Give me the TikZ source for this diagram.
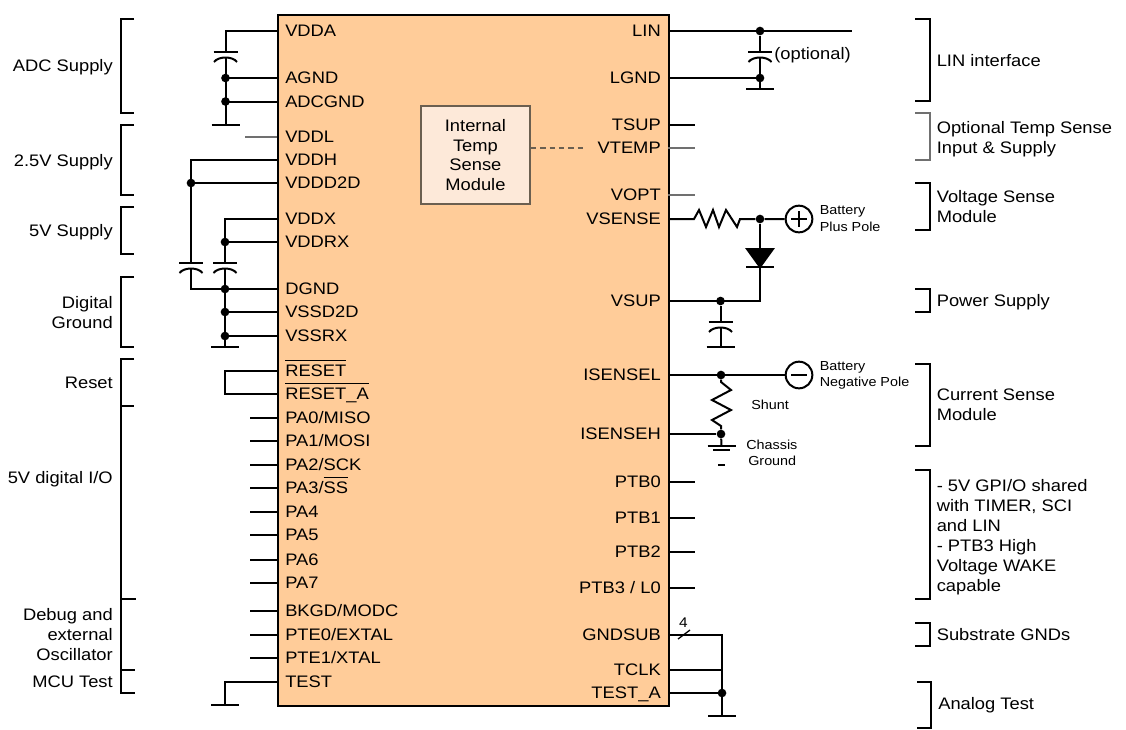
\documentclass[tikz,border=0pt]{standalone}
\usepackage{fontspec}
\setmainfont{Liberation Sans}[FakeStretch=1.1]
\definecolor{chipfill}{HTML}{FFCC99}
\definecolor{modfill}{HTML}{FDE9D9}
\definecolor{modline}{HTML}{6B5F50}
\definecolor{greywire}{HTML}{707070}
\newcommand{\ovl}[1]{$\overline{\mbox{#1\rule{0pt}{11.2pt}}}$}
\newcommand{\lpin}[3]{\coordinate (c#1) at (277,#2);\node[pinl] (n#1) at (285,#2) {#3};}
\newcommand{\rpin}[3]{\coordinate (c#1) at (668,#2);\node[pinr] (n#1) at (661,#2) {#3};}
\newcommand{\stubL}[1]{\draw[wire] (c#1) -- ++(-27,0) coordinate (e#1);}
\newcommand{\stubR}[1]{\draw[wire] (c#1) -- ++(27,0) coordinate (e#1);}
\newcommand{\capv}[2]{% x, y of plate
  \draw[wire] (#1-12,#2) -- (#1+12,#2);
  \draw[wire] (#1-11.5,#2+10) .. controls (#1-7,#2+4) and (#1+7,#2+4) .. (#1+11.5,#2+10);}
\newcommand{\gndbar}[3]{\coordinate (#1) at (#2,#3);\draw[wire] (#2-14,#3) -- (#2+14,#3);}
\newcommand{\brL}[2]{\draw[wire] (134,#1) -- (120.5,#1) -- (120.5,#2) -- (134,#2);}
\newcommand{\brR}[3][black]{\draw[wire,draw=#1] (915,#2) -- (930,#2) -- (930,#3) -- (915,#3);}
\tikzset{
  wire/.style={line width=1.5pt,line cap=butt,line join=miter},
  greyw/.style={wire,draw=greywire},
  jdot/.style={circle,fill=black,inner sep=0,minimum size=6.5pt},
  pinl/.style={anchor=west,inner sep=0,font=\fontsize{12.5}{14}\selectfont,text height=8.9pt,text depth=0pt},
  pinr/.style={anchor=east,inner sep=0,font=\fontsize{12.5}{14}\selectfont,text height=8.9pt,text depth=0pt},
  ltext/.style={align=right,anchor=east,inner sep=0,font=\fontsize{12.5}{15}\selectfont},
  rtext/.style={align=left,anchor=west,inner sep=0,font=\fontsize{12.5}{15}\selectfont},
  small/.style={align=left,anchor=west,inner sep=0,font=\fontsize{9.8}{12}\selectfont},
}
\begin{document}
\begin{tikzpicture}[x=0.75pt,y=-0.75pt]
\useasboundingbox (0,0) rectangle (1126,729);
\node[draw=black,line width=1.5pt,fill=chipfill,minimum width=293.25pt,minimum height=518.25pt,inner sep=0,anchor=north west] (chip) at (277,14) {};
\node[draw=modline,line width=1.4pt,fill=modfill,minimum width=81.75pt,minimum height=73.5pt,inner sep=0,align=center,anchor=north west,font=\fontsize{12.5}{14.75}\selectfont] (mod) at (420,105) {Internal\\Temp\\Sense\\Module};
% left pins
\lpin{vdda}{31}{VDDA}\lpin{agnd}{78}{AGND}\lpin{adcgnd}{101.5}{ADCGND}
\lpin{vddl}{136.5}{VDDL}\lpin{vddh}{160}{VDDH}\lpin{vddd}{183}{VDDD2D}
\lpin{vddx}{219}{VDDX}\lpin{vddrx}{242}{VDDRX}
\lpin{dgnd}{289}{DGND}\lpin{vssd}{312}{VSSD2D}\lpin{vssrx}{336}{VSSRX}
\lpin{reset}{371}{\ovl{RESET}}\lpin{reseta}{394}{\ovl{RESET\_A}}
\lpin{pa0}{418}{PA0/MISO}\lpin{pa1}{441}{PA1/MOSI}\lpin{pa2}{465}{PA2/SCK}
\lpin{pa3}{488}{PA3/\ovl{SS}}\lpin{pa4}{512}{PA4}\lpin{pa5}{535}{PA5}
\lpin{pa6}{560}{PA6}\lpin{pa7}{583}{PA7}
\lpin{bkgd}{611}{BKGD/MODC}\lpin{pte0}{635}{PTE0/EXTAL}\lpin{pte1}{658}{PTE1/XTAL}
\lpin{test}{682}{TEST}
% right pins
\rpin{lin}{31}{LIN}\rpin{lgnd}{78}{LGND}\rpin{tsup}{125}{TSUP}\rpin{vtemp}{148}{VTEMP}
\rpin{vopt}{195}{VOPT}\rpin{vsense}{219}{VSENSE}\rpin{vsup}{301}{VSUP}
\rpin{isensel}{375}{ISENSEL}\rpin{isenseh}{434}{ISENSEH}
\rpin{ptb0}{482}{PTB0}\rpin{ptb1}{517.5}{PTB1}\rpin{ptb2}{552}{PTB2}\rpin{ptb3}{588}{PTB3 / L0}
\rpin{gndsub}{635}{GNDSUB}\rpin{tclk}{670}{TCLK}\rpin{testa}{693}{TEST\_A}
% stubs
\foreach \p in {pa0,pa1,pa2,pa3,pa4,pa5,pa6,pa7,bkgd,pte0,pte1}{\stubL{\p}}
\foreach \p in {tsup,ptb0,ptb1,ptb2,ptb3}{\stubR{\p}}
\draw[greyw] (cvddl) -- ++(-32,0);
\draw[greyw] (cvtemp) -- ++(27,0);
\draw[greyw] (cvopt) -- ++(27,0);
\coordinate (dashend) at (585,148);
\draw[modline,line width=1.1pt,dash pattern=on 4pt off 3pt] (mod.east |- dashend) -- (dashend);
% ADC group
\gndbar{g1}{225.5}{125}
\draw[wire] (cvdda) -- (225.5,31) -- (225.5,52);
\capv{225.5}{52}
\draw[wire] (225.5,58) -- (g1);
\draw[wire] (cagnd) -- (225.5,78) node[jdot] (j1) {};
\draw[wire] (cadcgnd) -- (225.5,101.5) node[jdot] (j2) {};
% 2.5V / 5V / digital ground
\draw[wire] (cvddh) -- (191,160) -- (191,263);
\draw[wire] (cvddd) -- (191,183) node[jdot] (j3) {};
\capv{191}{263}
\draw[wire] (cvddx) -- (225,219) -- (225,263);
\draw[wire] (cvddrx) -- (225,242) node[jdot] (j4) {};
\capv{225}{263}
\draw[wire] (191,269) -- (191,289) -- (cdgnd);
\gndbar{g2}{225}{347}
\draw[wire] (225,269) -- (g2);
\node[jdot] (j5) at (225,289) {};
\draw[wire] (cvssd) -- (225,312) node[jdot] (j6) {};
\draw[wire] (cvssrx) -- (225,336) node[jdot] (j7) {};
% reset, test
\draw[wire] (creset) -- (225,371) -- (225,394) -- (creseta);
\gndbar{g3}{225}{705}
\draw[wire] (ctest) -- (225,682) -- (g3);
% LIN
\draw[wire] (clin) -- (852,31) coordinate (linend);
\node[jdot] (j8) at (760,31) {};
\draw[wire] (j8) -- (760,52);
\capv{760}{52}
\node[anchor=west,inner sep=0,font=\fontsize{12.5}{14}\selectfont] (opt) at (774,55.5) {(optional)};
\draw[wire] (clgnd) -- (760,78) node[jdot] (j9) {};
\gndbar{g4}{760}{89}
\draw[wire] (760,58) -- (g4);
% VSENSE
\node[draw,circle,line width=1.5pt,minimum size=20pt,inner sep=0] (bplus) at (799,219) {};
\draw[wire] (bplus.center) ++(-8,0) -- ++(16,0);
\draw[wire] (bplus.center) ++(0,-8) -- ++(0,16);
\node[jdot] (j10) at (760,219) {};
\draw[wire] (cvsense) -- (694,219) -- (699,210) -- (706,227) -- (713,210) -- (719,227) -- (726,210) -- (737,227) -- (740,219) -- (j10) -- (bplus);
\node[small] (bpt) at (819.5,211) {Battery};
\node[small] (bpb) at (819.5,227) {Plus Pole};
\draw[fill=black,wire] (747,249) -- (773,249) -- (760,267) -- cycle;
\draw[wire] (746,267) -- (774,267);
\draw[wire] (j10) -- (760,249);
\draw[wire] (760,267) -- (760,301) -- (cvsup);
\node[jdot] (j11) at (720.5,301) {};
\draw[wire] (j11) -- (720.5,322);
\capv{720.5}{322}
\gndbar{g5}{720.5}{347}
\draw[wire] (720.5,328) -- (g5);
% ISENSE
\node[draw,circle,line width=1.5pt,minimum size=20pt,inner sep=0] (bminus) at (799,375) {};
\draw[wire] (bminus.center) ++(-8,0) -- ++(16,0);
\draw[wire] (cisensel) -- (bminus);
\node[jdot] (j12) at (721,375) {};
\node[small] (bnt) at (819.5,367) {Battery};
\node[small] (bnb) at (819.5,383.5) {Negative Pole};
\node[jdot] (j13) at (721,434) {};
\draw[wire] (j12) -- (721,382) -- (731,390) -- (712,400) -- (731,410) -- (712,420) -- (721,426) -- (j13);
\draw[wire] (cisenseh) -- (j13);
\gndbar{g6}{721.5}{446}
\draw[wire] (j13) -- (g6);
\draw[wire] (713,450) -- (730,450);
\draw[wire] (718,465) -- (725,465);
\node[small] (shunt) at (751,405) {Shunt};
\node[small] (chs) at (746,444.5) {Chassis};
\node[small] (chg) at (748,460.5) {Ground};
% GNDSUB
\draw[wire] (cgndsub) -- (722,635) -- (722,716) coordinate (g7);
\draw[wire] (708,716) -- (736,716);
\draw[wire] (ctclk) -- (722,670);
\draw[wire] (ctesta) -- (722,693) node[jdot] (j14) {};
\draw[line width=1pt] (678,639) -- (690,630);
\node[inner sep=0,font=\fontsize{10.5}{12}\selectfont] (four) at (683.5,622.5) {4};
% left brackets
\brL{19}{113}\brL{125}{195}\brL{207}{253.5}\brL{277}{347}
\draw[wire] (134,359) -- (120.5,359) -- (120.5,693) -- (135,693);
\draw[wire] (120.5,406) -- (134,406);
\draw[wire] (120.5,599) -- (136,599);
\draw[wire] (120.5,670) -- (135,670);
% right brackets
\brR{19}{101}\brR[greywire]{113}{160}\brR{183}{230}\brR{289}{312}
\brR{364}{446}\brR{470}{599}\brR{623}{646}
\draw[wire] (917,682) -- (931,682) -- (931,728) -- (917,728);
% left text
\node[ltext] (t1) at (113,67.5) {ADC Supply};
\node[ltext] (t2) at (113,162.5) {2.5V Supply};
\node[ltext] (t3) at (113,232) {5V Supply};
\node[ltext] (t4) at (113,313) {Digital\\Ground};
\node[ltext] (t5) at (113,383) {Reset};
\node[ltext] (t6) at (113,479) {5V digital I/O};
\node[ltext] (t7) at (113,635) {Debug and\\external\\Oscillator};
\node[ltext] (t8) at (113,682) {MCU Test};
% right text
\node[rtext] (r1) at (936.5,60.5) {LIN interface};
\node[rtext] (r2) at (936.5,139) {Optional Temp Sense\\Input \& Supply};
\node[rtext] (r3) at (936.5,207) {Voltage Sense\\Module};
\node[rtext] (r4) at (936.5,302.5) {Power Supply};
\node[rtext] (r5) at (936.5,405) {Current Sense\\Module};
\node[rtext] (r6) at (936.5,537) {- 5V GPI/O shared\\with TIMER, SCI\\and LIN\\- PTB3 High\\Voltage WAKE\\capable};
\node[rtext] (r7) at (936.5,635) {Substrate GNDs};
\node[rtext] (r8) at (938,705) {Analog Test};
\end{tikzpicture}
\end{document}
